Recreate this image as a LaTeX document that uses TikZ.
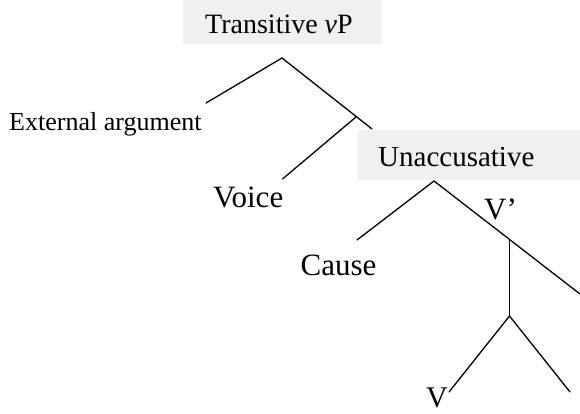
\documentclass[tikz,border=0pt]{standalone}
\usepackage{fontspec}
\setmainfont{Liberation Serif}
\definecolor{boxgray}{HTML}{F0F0F0}
\begin{document}
\begin{tikzpicture}[x=1pt,y=-1pt,
  branch/.style={line width=1.3pt, line cap=round},
  lbl/.style={inner sep=0pt, anchor=base west},
  catbox/.style={fill=boxgray, inner sep=0pt, anchor=north west}]
\useasboundingbox (0,0) rectangle (580,414);

% shaded category boxes
\node[catbox, minimum width=199pt, minimum height=44pt] (tbox) at (183,0) {};
\node[catbox, minimum width=222pt, minimum height=50pt] (ubox) at (358,130) {};

% labels
\node[lbl, font=\fontsize{28}{30}\selectfont] (tvp) at (205,34) {Transitive \textit{v}P};
\node[lbl, font=\fontsize{26}{28}\selectfont] (ext) at (9,131) {External argument};
\node[lbl, font=\fontsize{31}{33}\selectfont] (voice) at (213,207) {Voice};
\node[lbl, font=\fontsize{29}{31}\selectfont] (unacc) at (378,167) {Unaccusative};
\node[lbl, font=\fontsize{31}{33}\selectfont] (vbar) at (484,219) {V’};
\node[lbl, font=\fontsize{31}{33}\selectfont] (cause) at (300.5,275) {Cause};
\node[lbl, font=\fontsize{30}{32}\selectfont] (vhead) at (426,407) {V};

% branching points
\coordinate (t0) at (282,58);
\coordinate (ea) at (206,103);
\coordinate (t1) at (356,117);
\coordinate (t1r) at (372,129);
\coordinate (vo) at (282.5,179);
\coordinate (u0) at (434,181);
\coordinate (ca) at (357,240);
\coordinate (u1) at (509.5,239.5);
\coordinate (u1r) at (580,294);
\coordinate (u2) at (509.5,316);
\coordinate (vl) at (449,392);
\coordinate (vr) at (570,392);

% tree branches
\draw[branch] (ea) -- (t0) -- (t1r);
\draw[branch] (t1) -- (vo);
\draw[branch] (ca) -- (u0) -- (u1r);
\draw[branch] (u1) -- (u2);
\draw[branch] (vl) -- (u2) -- (vr);
\end{tikzpicture}
\end{document}
